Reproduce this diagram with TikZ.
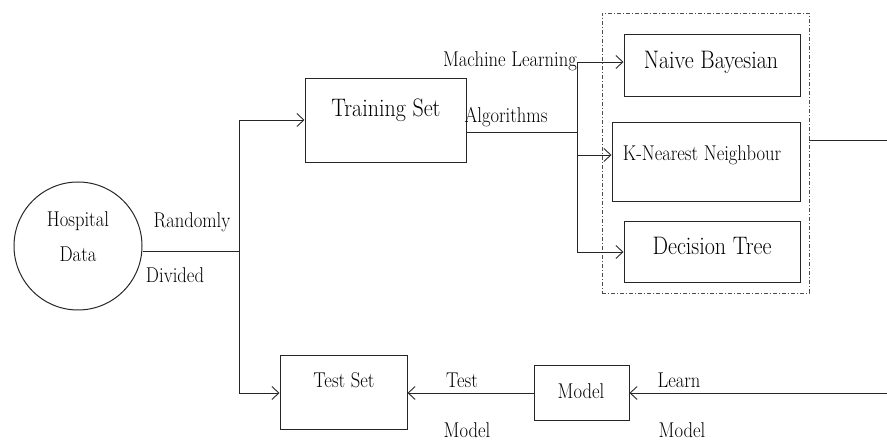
\documentclass[tikz,border=0pt]{standalone}
\usepackage{fontspec}
\usepackage{graphicx}
\usetikzlibrary{arrows.meta}
\newcommand{\tx}[1]{\scalebox{1}[1.15]{#1}}
\begin{document}
\begin{tikzpicture}[x=1pt,y=-1pt,
  ln/.style={line width=0.9pt, draw=black!85},
  arr/.style={ln, -{Straight Barb[length=7pt,width=13pt,line width=0.9pt]}},
  box/.style={draw=black!85, line width=1pt, inner sep=0pt, rectangle},
  lab/.style={inner sep=0pt, font=\fontsize{18.6}{22}\selectfont},
  big/.style={inner sep=0pt, font=\fontsize{22}{25}\selectfont}
]
\useasboundingbox (0,0) rectangle (887,443);
% boxes
\node[draw=black!85, line width=1pt, circle, inner sep=0pt, minimum size=128] (hd) at (78,246) {};
\node[box, minimum width=161, minimum height=84] (tr) at (385.5,121) {};
\node[box, minimum width=127, minimum height=74] (ts) at (343.5,393) {};
\node[box, minimum width=95, minimum height=55] (mo) at (581.5,393) {};
\node[box, minimum width=176, minimum height=62] (nb) at (712,66) {};
\node[box, minimum width=188, minimum height=79] (kn) at (706,162.5) {};
\node[box, minimum width=176, minimum height=61] (dt) at (712,252.5) {};
\node[draw=black!70, line width=0.8pt, dash pattern=on 4pt off 2pt on 1pt off 2pt, inner sep=0pt, minimum width=207, minimum height=280] (db) at (705.5,153) {};
% box texts
\node[lab] (hdt) at (78,239) {\tx{\begin{tabular}{@{}c@{}}Hospital\\[8pt]Data\end{tabular}}};
\node[big] (trt) at (386,110) {\tx{Training Set}};
\node[lab] (tst) at (344,380) {\tx{Test Set}};
\node[lab] (mot) at (581,391) {\tx{Model}};
\node[big] (nbt) at (711,62) {\tx{Naive Bayesian}};
\node[lab] (knt) at (702,155) {\tx{K-Nearest Neighbour}};
\node[big] (dtt) at (712,246) {\tx{Decision Tree}};
% coordinates
\coordinate (split) at (239,251);
\coordinate (t1) at (239,120);
\coordinate (t2) at (239,393);
\coordinate (a) at (577,132);
\coordinate (v1) at (577,62);
\coordinate (v2) at (577,155);
\coordinate (v3) at (577,252);
\coordinate (r1) at (887,140);
\coordinate (r2) at (887,393);
% connectors
\draw[ln] (split -| hd.east) -- (split);
\draw[ln] (t1) -- (t2);
\draw[arr] (t1) -- (t1 -| tr.west);
\draw[arr] (t2) -- (t2 -| ts.west);
\draw[ln] (a -| tr.east) -- (a);
\draw[ln] (v1) -- (v3);
\draw[arr] (v1) -- (v1 -| nb.west);
\draw[arr] (v2) -- (v2 -| kn.west);
\draw[arr] (v3) -- (v3 -| dt.west);
\draw[ln] (r1 -| db.east) -- (r1);
\draw[arr] (r2) -- (mo.east);
\draw[arr] (mo.west) -- (ts.east);
% labels
\node[lab] (l1) at (192,222) {\tx{Randomly}};
\node[lab] (l2) at (175,275) {\tx{Divided}};
\node[lab] (l3) at (510,61) {\tx{Machine Learning}};
\node[lab] (l4) at (506,117) {\tx{Algorithms}};
\node[lab] (l5) at (462,380) {\tx{Test}};
\node[lab] (l6) at (467,430) {\tx{Model}};
\node[lab] (l7) at (679,380) {\tx{Learn}};
\node[lab] (l8) at (682,430) {\tx{Model}};
\end{tikzpicture}
\end{document}
